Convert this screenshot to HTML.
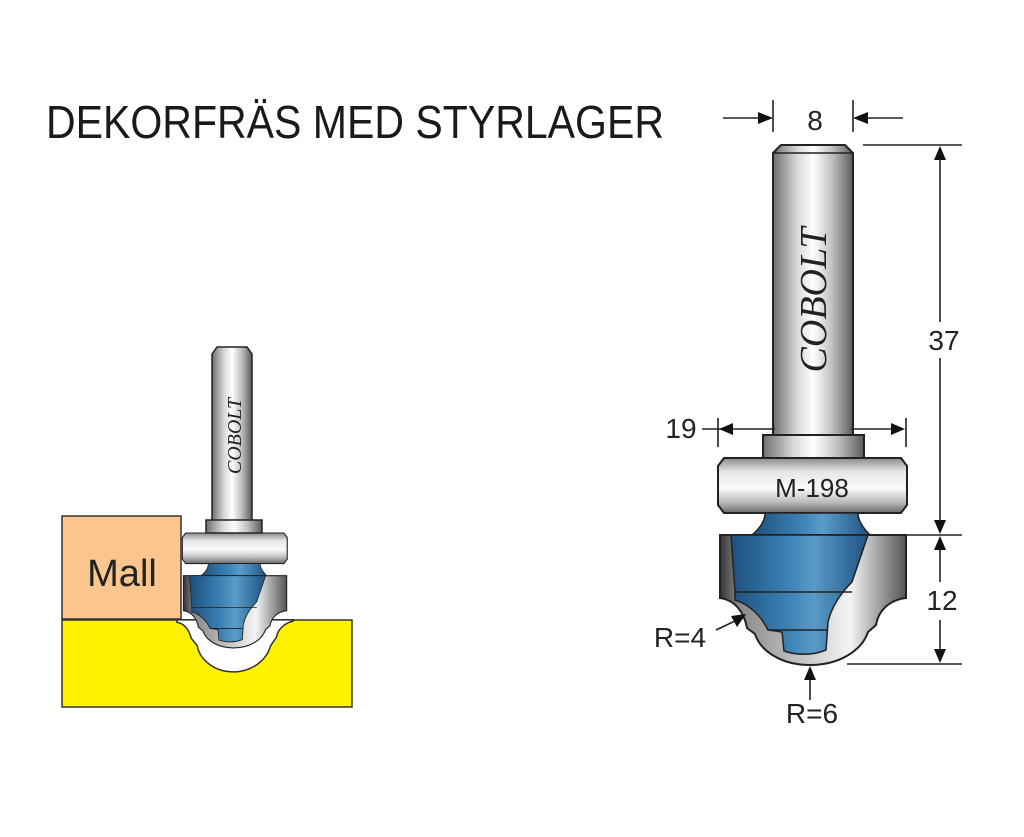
<!DOCTYPE html>
<html><head><meta charset="utf-8"><style>
html,body{margin:0;padding:0;background:#fff;}
svg{display:block;}
text{font-family:"Liberation Sans",sans-serif;}
</style></head><body>
<svg width="1024" height="837" viewBox="0 0 1024 837" xmlns="http://www.w3.org/2000/svg">
<defs>
<linearGradient id="steel" x1="0" x2="1" y1="0" y2="0">
<stop offset="0" stop-color="#6e6e6e"/><stop offset="0.3" stop-color="#d8d8d8"/><stop offset="0.5" stop-color="#ffffff"/><stop offset="0.75" stop-color="#bdbdbd"/><stop offset="1" stop-color="#5a5a5a"/></linearGradient>
<linearGradient id="steelv" x1="0" x2="0" y1="0" y2="1">
<stop offset="0" stop-color="#8a8a8a"/><stop offset="0.25" stop-color="#e6e6e6"/><stop offset="0.55" stop-color="#fafafa"/><stop offset="0.8" stop-color="#bcbcbc"/><stop offset="1" stop-color="#6a6a6a"/></linearGradient>
<linearGradient id="blue" x1="0" x2="1" y1="0" y2="0">
<stop offset="0" stop-color="#1d4f7e"/><stop offset="0.45" stop-color="#3f86b8"/><stop offset="0.6" stop-color="#5a9cc8"/><stop offset="1" stop-color="#1e5282"/></linearGradient>
<linearGradient id="cut" x1="0" x2="1" y1="0" y2="0">
<stop offset="0" stop-color="#333"/><stop offset="0.1" stop-color="#888"/><stop offset="0.7" stop-color="#f4f4f4"/><stop offset="1" stop-color="#555"/></linearGradient>
<g id="cutter">
<path d="M724,458 H901 L907,466 V505 L901,513 H724 L718,505 V466 Z" fill="url(#steelv)" stroke="#222" stroke-width="2"/>
<path d="M765,513 H858 C858,522 865,530 870,535 H752 C758,530 765,522 765,513 Z" fill="url(#blue)" stroke="#222" stroke-width="1.5"/>
<path d="M720,535 H906 V598 C888,600 878,612 876,625 L868,632 C862,650 840,665 810,665 C780,665 760,650 755,634 L747,628 C744,612 735,600 720,598 Z" fill="url(#cut)" stroke="#222" stroke-width="2"/>
<path d="M731,535 H868 L852,582 C842,592 832,605 828,622 L826,650 C812,656 795,655 784,651 L782,632 L768,630 C760,614 748,604 735,600 V592 Z" fill="url(#blue)" stroke="#222" stroke-width="1.5"/>
<path d="M735,592 H852 M768,630 H828" stroke="#222" stroke-width="1.5"/>
</g>
</defs>

<text x="46" y="138" font-size="46" fill="#1a1a1a" textLength="618" lengthAdjust="spacingAndGlyphs">DEKORFRÄS MED STYRLAGER</text>

<path d="M773,153 L781,145 H845 L853,153 V437 H773 Z" fill="url(#steel)" stroke="#222" stroke-width="2"/>
<line x1="773" y1="153" x2="853" y2="153" stroke="#222" stroke-width="1.5"/>
<text transform="translate(826,300) rotate(-90)" text-anchor="middle" font-style="italic" font-size="38" fill="#222" style="font-family:'Liberation Serif',serif">COBOLT</text>
<rect x="763" y="435" width="101" height="23" fill="url(#steel)" stroke="#222" stroke-width="2"/>
<use href="#cutter"/>
<text x="812" y="497" text-anchor="middle" font-size="26" fill="#222">M-198</text>

<g stroke="#222" stroke-width="1.6" fill="none">
<line x1="773" y1="100" x2="773" y2="132"/><line x1="853" y1="100" x2="853" y2="132"/>
<line x1="723" y1="118" x2="760" y2="118"/><line x1="866" y1="118" x2="903" y2="118"/>
<line x1="863" y1="145" x2="962" y2="145"/><line x1="830" y1="535" x2="962" y2="535"/><line x1="847" y1="664" x2="962" y2="664"/>
<line x1="940" y1="158" x2="940" y2="322"/><line x1="940" y1="358" x2="940" y2="520"/>
<line x1="940" y1="548" x2="940" y2="582"/><line x1="940" y1="620" x2="940" y2="650"/>
<line x1="718" y1="418" x2="718" y2="447"/><line x1="906" y1="418" x2="906" y2="447"/>
<line x1="702" y1="429" x2="730" y2="429"/>
<line x1="730" y1="429" x2="775" y2="429"/><line x1="851" y1="429" x2="894" y2="429"/>
<line x1="716" y1="630" x2="735" y2="621"/><line x1="810" y1="700" x2="810" y2="678"/>
</g>
<g fill="#111">
<path d="M773,118 L758,112 V124 Z"/><path d="M853,118 L868,112 V124 Z"/>
<path d="M940,146 L934,160 H946 Z"/><path d="M940,534 L934,520 H946 Z"/>
<path d="M940,536 L934,550 H946 Z"/><path d="M940,663 L934,649 H946 Z"/>
<path d="M719,429 L733,423 V435 Z"/><path d="M905,429 L891,423 V435 Z"/>
<path d="M746,614 L731,616 L737,627 Z"/><path d="M810,666 L804,680 H816 Z"/>
</g>
<g font-size="28" fill="#222">
<text x="815" y="130" text-anchor="middle">8</text>
<text x="944" y="350" text-anchor="middle">37</text>
<text x="942" y="610" text-anchor="middle">12</text>
<text x="681" y="438" text-anchor="middle">19</text>
<text x="680" y="647" text-anchor="middle">R=4</text>
<text x="812" y="723" text-anchor="middle">R=6</text>
</g>

<rect x="62" y="620" width="290" height="87" fill="#fff200" stroke="#333" stroke-width="1.5"/>
<rect x="62" y="516" width="119" height="103" fill="#fbc68e" stroke="#333" stroke-width="1.5"/>
<text x="122" y="586" text-anchor="middle" font-size="38" fill="#222">Mall</text>
<g transform="translate(234.5,533) scale(0.6,0.62) translate(-812,-458)">
<path d="M716,598 H910 V600 C894,604 884,614 882,626 L872,640 C866,662 842,682 810,682 C778,682 754,662 750,640 L740,628 C736,614 728,604 716,602 Z" fill="#fff" stroke="#333" stroke-width="2.5"/>
</g>
<g transform="translate(234.5,533) scale(0.555) translate(-812,-458)">
<use href="#cutter"/>
</g>
<path d="M212,354 L217,347 H247 L252,354 V522 H212 Z" fill="url(#steel)" stroke="#222" stroke-width="1.5"/>
<text transform="translate(241,436) rotate(-90)" text-anchor="middle" font-style="italic" font-size="20" fill="#222" style="font-family:'Liberation Serif',serif">COBOLT</text>
<rect x="206" y="520" width="56" height="13" fill="url(#steel)" stroke="#222" stroke-width="1.5"/>
</svg>
</body></html>
